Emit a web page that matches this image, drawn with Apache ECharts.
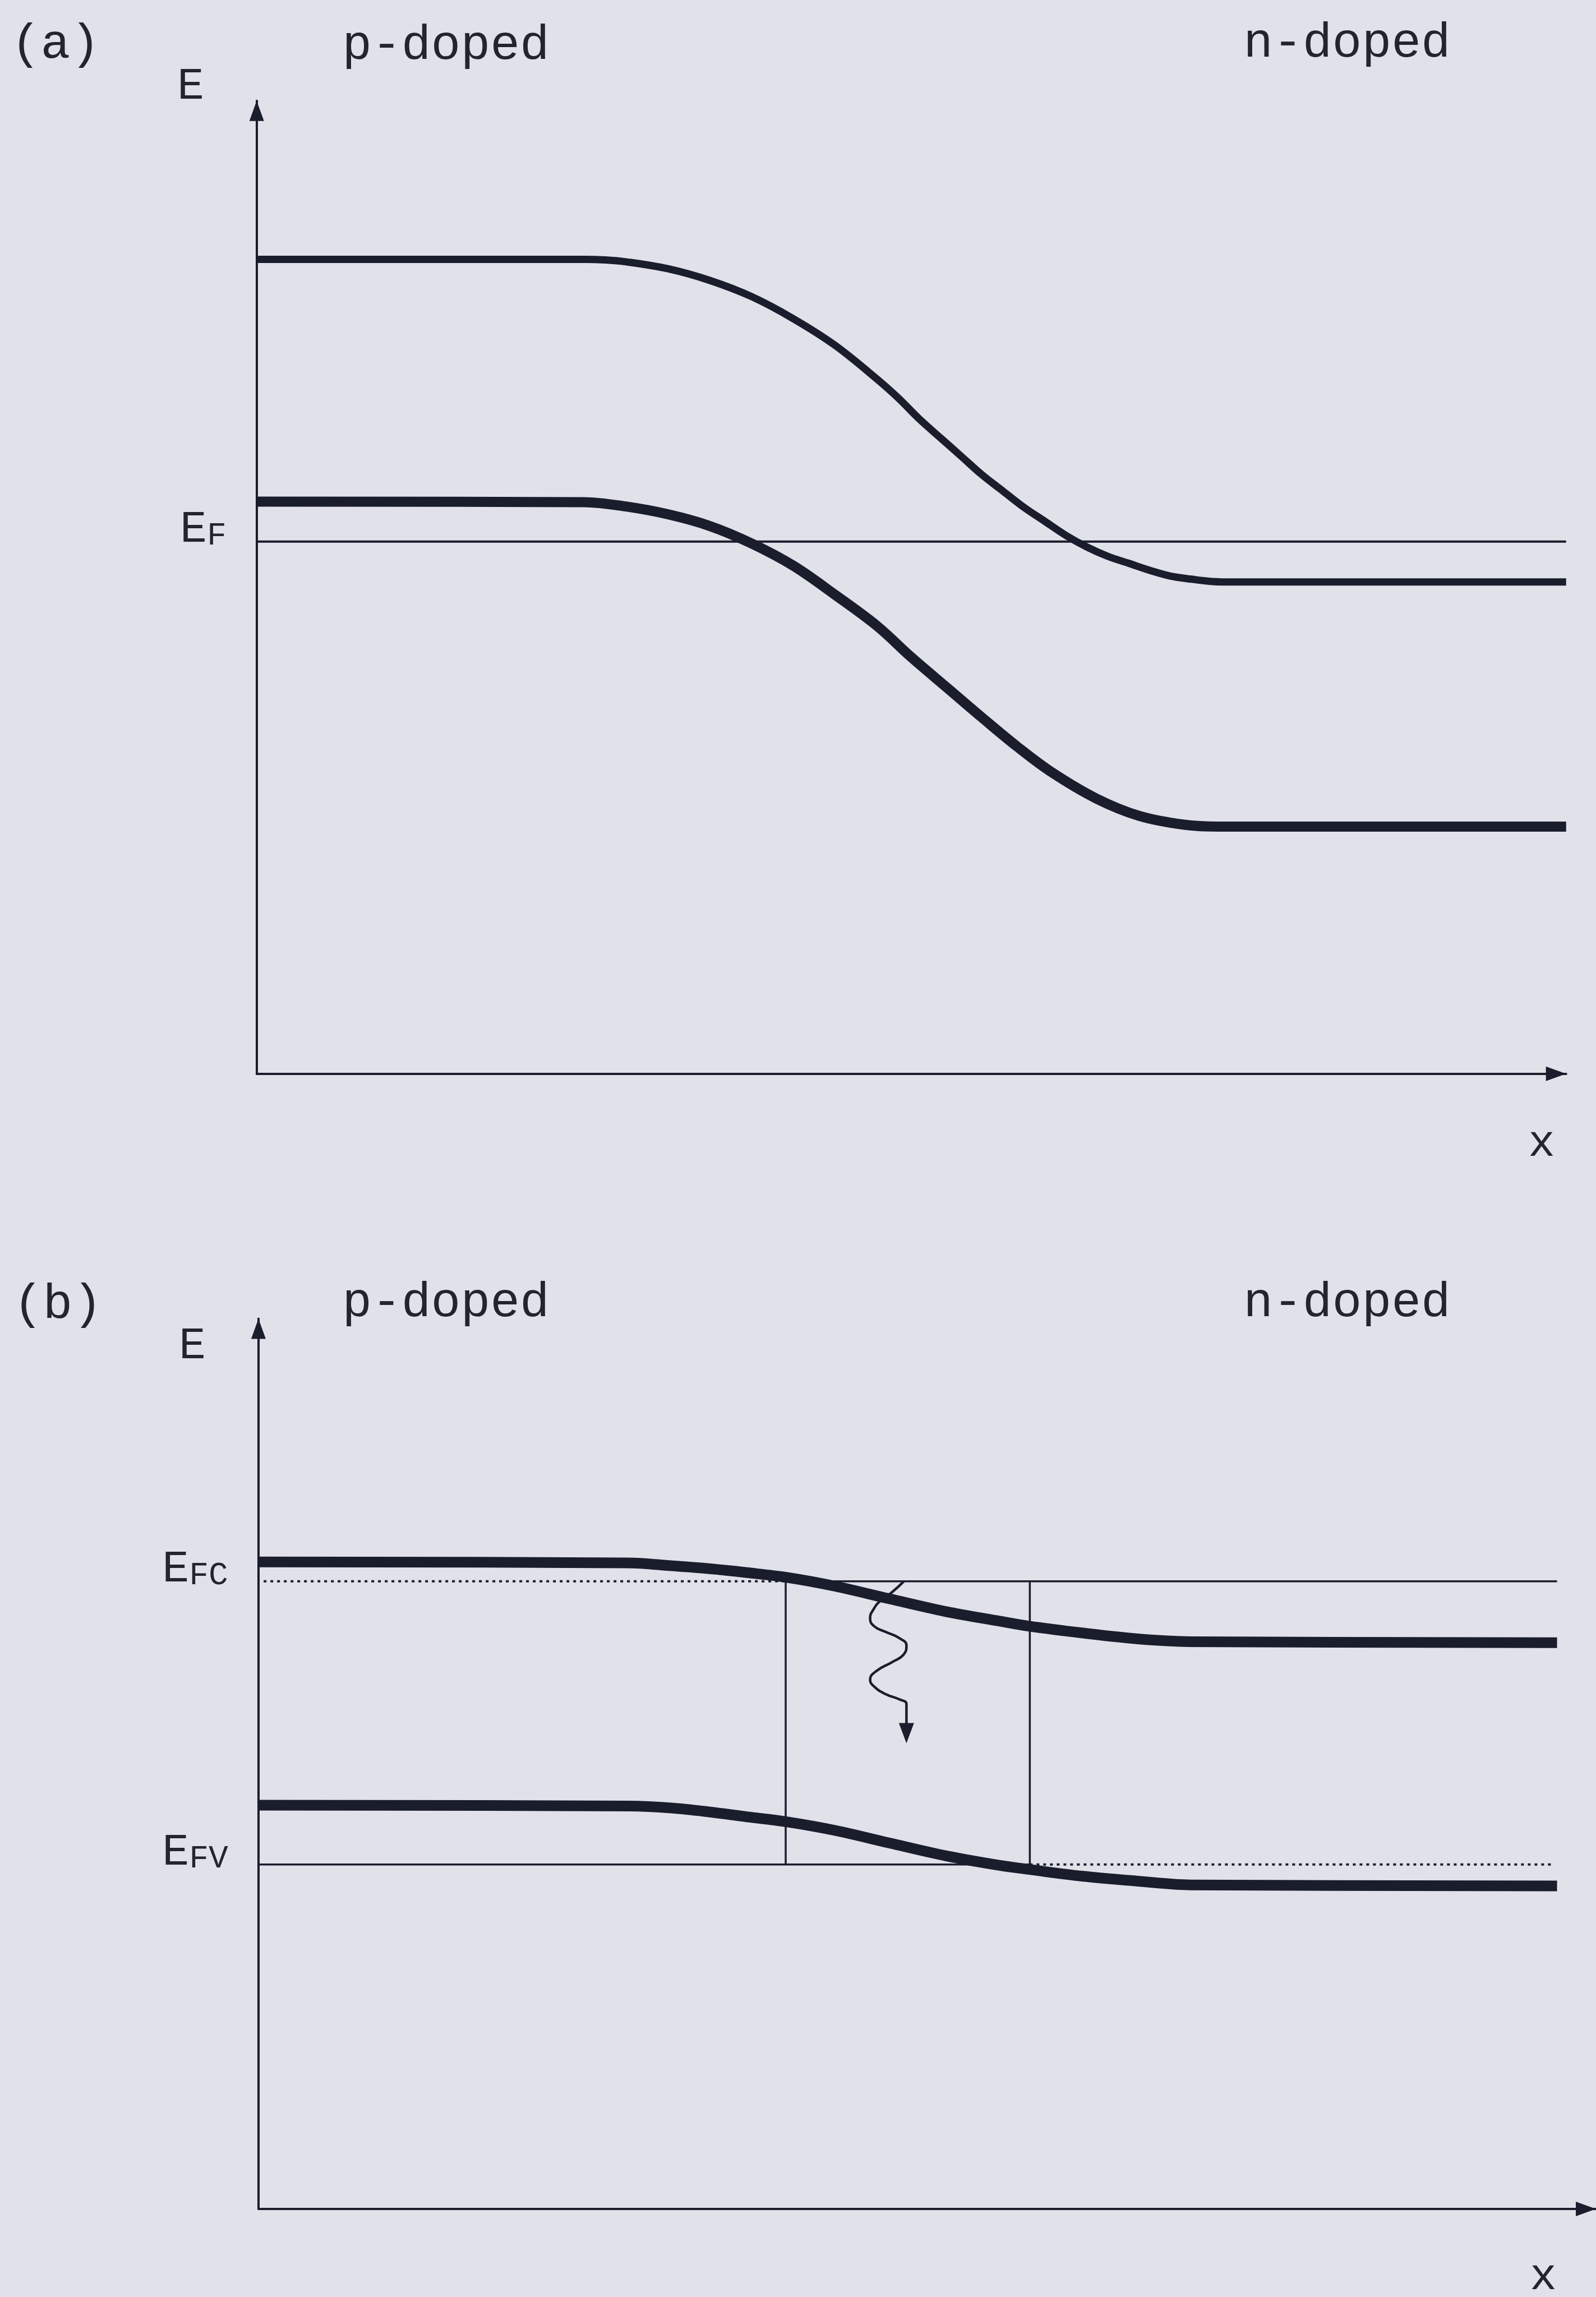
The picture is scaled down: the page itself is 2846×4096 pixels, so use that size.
<!DOCTYPE html>
<html>
<head>
<meta charset="utf-8">
<script src="https://cdn.jsdelivr.net/npm/echarts@6/dist/echarts.min.js"></script>
<style>
html,body{margin:0;padding:0;background:#e1e1ea;}
#chart{width:2846px;height:4096px;}
</style>
</head>
<body>
<div id="chart"></div>
<script>
// ---- data (x: position, E: energy, arbitrary units) ----
// Panel (a): equilibrium p-n junction
const upperA = [[0,83.7],[25.0,83.7],[26.6,83.64],[28.2,83.45],[31.4,82.74],[34.6,81.54],[37.8,79.87],[41.0,77.59],[44.2,74.84],[47.4,71.37],[49.0,69.45],[50.6,67.3],[52.2,65.38],[53.8,63.47],[55.4,61.55],[57.0,59.88],[58.6,58.21],[60.2,56.77],[61.8,55.33],[63.4,54.14],[65.0,53.18],[66.6,52.46],[68.2,51.74],[69.8,51.14],[71.4,50.83],[73.0,50.59],[74.6,50.54],[100,50.54]];
const lowerA = [[0,58.8],[25.0,58.75],[28.2,58.3],[31.4,57.5],[34.6,56.3],[37.8,54.5],[41.0,52.2],[44.2,49.2],[47.4,46.0],[50.0,42.8],[52.7,39.7],[55.4,36.6],[58.1,33.6],[60.7,31.0],[64.1,28.3],[67.4,26.5],[70.8,25.6],[73.5,25.4],[100,25.4]];
const fermiA = 54.7;

// Panel (b): forward-biased junction
const upperB = [[0,66.5],[28.5,66.4],[31.8,66.1],[34.7,65.8],[37.6,65.4],[40.7,64.9],[44.4,64.0],[48.6,62.7],[52.9,61.4],[57.1,60.4],[59.3,59.9],[63.4,59.2],[67.6,58.6],[71.8,58.3],[100,58.2]];
const lowerB = [[0,41.5],[28.5,41.4],[31.8,41.2],[34.7,40.8],[37.6,40.3],[40.6,39.8],[44.4,38.9],[48.6,37.6],[52.9,36.3],[57.1,35.3],[59.3,34.9],[63.4,34.2],[67.6,33.7],[71.8,33.3],[100,33.2]];
const quasiFermiC = 64.5;
const quasiFermiV = 35.4;
const junctionX = [40.6, 59.4];
const lineStartX = 0.4;
const lineEndX = 100;
const dotEndX = 99.6;
const photonPath = [[49.7,64.5],[48.8,63.4],[47.9,62.5],[47.4,61.7],[47.1,60.7],[47.4,59.9],[48.3,59.3],[49.3,58.7],[49.9,57.9],[49.7,57.0],[48.8,56.2],[47.6,55.3],[47.1,54.4],[47.4,53.7],[48.3,52.9],[49.3,52.4],[49.9,51.9],[49.9,51.3],[49.9,48.9]];

// axis ranges
const xMaxA = 100, yMaxA = 100;
const xMaxB = 103, yMaxB = 91.5;

// text
const panelLabels = ['(a)', '(b)'];
const regionLabels = ['p-doped', 'n-doped'];
const energyName = 'E';
const positionName = 'x';

// ---- styling ----
const INK = '#191d2c';
const TXT = '#24242c';
const FONT = "'Liberation Mono','Courier New',monospace";
const FS = 88, FS_E = 80, FS_SUB = 58;

const chart = echarts.init(document.getElementById('chart'), null, {renderer: 'canvas'});

function seg(x0, x1, y) { return [[x0, y], [x1, y]]; }
function vseg(x, y0, y1) { return [[x, y0], [x, y1]]; }

const richE = {
  e: {fontFamily: FONT, fontSize: FS_E, color: TXT, lineHeight: 82, verticalAlign: 'bottom'},
  s: {fontFamily: FONT, fontSize: FS_SUB, color: TXT, lineHeight: 69, verticalAlign: 'bottom'}
};

function axisX(idx, max) {
  return {
    type: 'value', gridIndex: idx, min: 0, max: max,
    axisLine: {show: true, onZero: false, lineStyle: {color: INK, width: 4},
      symbol: ['none', 'triangle'], symbolSize: [26, 36], symbolOffset: [0, -18]},
    axisTick: {show: false}, axisLabel: {show: false}, splitLine: {show: false}
  };
}
function axisY(idx, max, values, names) {
  return {
    type: 'value', gridIndex: idx, min: 0, max: max,
    axisLine: {show: true, onZero: false, lineStyle: {color: INK, width: 4},
      symbol: ['none', 'triangle'], symbolSize: [26, 36], symbolOffset: [0, -18]},
    axisTick: {show: false}, splitLine: {show: false},
    axisLabel: {
      show: true, customValues: values, margin: 54, padding: [0, 0, 44, 0],
      formatter: function (v) {
        for (let i = 0; i < values.length; i++) {
          if (Math.abs(v - values[i]) < 1e-6) return '{e|E}{s|' + names[i] + '}';
        }
        return '';
      },
      rich: richE
    }
  };
}

function lineSeries(name, gi, data, width, extra) {
  return Object.assign({
    name: name, type: 'line', xAxisIndex: gi, yAxisIndex: gi, data: data,
    smooth: false, symbol: 'none', clip: false, silent: true,
    lineStyle: {color: INK, width: width, cap: 'butt', join: 'round'},
    itemStyle: {color: INK}, z: 3
  }, extra || {});
}
const bandSmooth = {smooth: 0.35};

const photonData = photonPath.map(function (p, i) {
  if (i === photonPath.length - 1) {
    return {value: p, symbol: 'triangle', symbolSize: [27, 36], symbolRotate: 180};
  }
  return p;
});

function txt(t, cx, cy, fs) {
  return {type: 'text', x: cx, y: cy, silent: true,
    style: {text: t, fontFamily: FONT, fontSize: fs, fill: TXT,
      align: 'center', verticalAlign: 'middle', textAlign: 'center', textVerticalAlign: 'middle'}};
}

const option = {
  backgroundColor: '#e1e1ea',
  animation: false,
  grid: [
    {left: 457.7, top: 179.7, width: 2335, height: 1735},
    {left: 460.9, top: 2351.4, width: 2405, height: 1587.5}
  ],
  xAxis: [axisX(0, xMaxA), axisX(1, xMaxB)],
  yAxis: [
    axisY(0, yMaxA, [fermiA], ['F']),
    axisY(1, yMaxB, [quasiFermiC, quasiFermiV], ['FC', 'FV'])
  ],
  series: [
    lineSeries('Conduction band (a)', 0, upperA, 13, bandSmooth),
    lineSeries('Valence band (a)', 0, lowerA, 18, bandSmooth),
    lineSeries('Fermi level (a)', 0, seg(0, lineEndX, fermiA), 4),

    lineSeries('Conduction band (b)', 1, upperB, 19, bandSmooth),
    lineSeries('Valence band (b)', 1, lowerB, 19, bandSmooth),
    lineSeries('EFC dotted', 1, seg(lineStartX, junctionX[0], quasiFermiC), 4,
      {lineStyle: {color: INK, width: 4, type: [5, 7]}}),
    lineSeries('EFC', 1, seg(junctionX[0], lineEndX, quasiFermiC), 3.5),
    lineSeries('EFV', 1, seg(0, junctionX[1], quasiFermiV), 3.5),
    lineSeries('EFV dotted', 1, seg(junctionX[1], dotEndX, quasiFermiV), 4,
      {lineStyle: {color: INK, width: 4, type: [5, 7]}}),
    lineSeries('junction left', 1, vseg(junctionX[0], quasiFermiV, quasiFermiC), 3.5),
    lineSeries('junction right', 1, vseg(junctionX[1], quasiFermiV, quasiFermiC), 3.5),
    lineSeries('photon', 1, photonData, 4.5, {smooth: 0.5, showSymbol: true, z: 4})
  ],
  graphic: [
    txt(panelLabels[0], 99, 79.6, FS),
    txt(regionLabels[0], 795, 81.6, FS),
    txt(regionLabels[1], 2402, 78, FS),
    txt(energyName, 340, 154.7, FS_E),
    txt(positionName, 2749, 2039.7, FS_E),
    txt(panelLabels[1], 103, 2326.6, FS),
    txt(regionLabels[0], 795, 2323.6, FS),
    txt(regionLabels[1], 2402, 2323.6, FS),
    txt(energyName, 343, 2400.7, FS_E),
    txt(positionName, 2752, 4060.7, FS_E)
  ]
};
chart.setOption(option);
</script>
</body>
</html>
